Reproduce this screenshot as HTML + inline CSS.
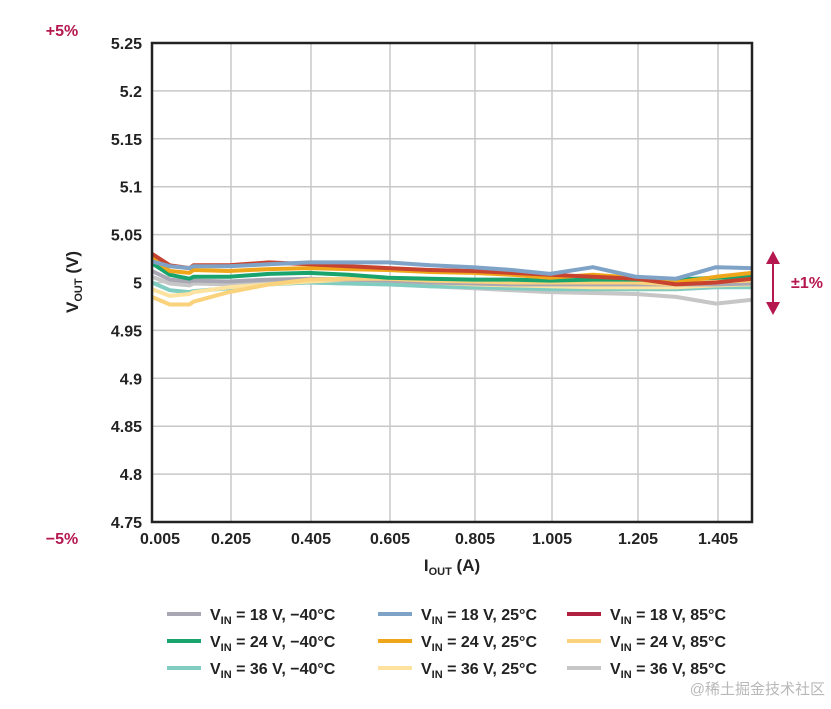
<!DOCTYPE html>
<html><head><meta charset="utf-8"><style>
body{margin:0;background:#fff;}
svg text{font-family:"Liberation Sans","Noto Sans CJK SC",sans-serif;font-weight:bold;}
</style></head><body>
<svg id="chart" width="831" height="704" viewBox="0 0 831 704" xmlns="http://www.w3.org/2000/svg">
<g id="grid"></g>
<g id="series"></g>
<rect x="152" y="43" width="600" height="479" fill="none" stroke="#222" stroke-width="2.5"/>
<g id="yticks" font-size="16" fill="#222" text-anchor="end"></g>
<g id="xticks" font-size="16" fill="#222" text-anchor="middle"></g>
<text transform="translate(78,282) rotate(-90)" text-anchor="middle" font-size="17" fill="#222">V<tspan font-size="11" dy="4">OUT</tspan><tspan dy="-4"> (V)</tspan></text>
<text x="452" y="571" text-anchor="middle" font-size="17" fill="#222">I<tspan font-size="11" dy="4">OUT</tspan><tspan dy="-4"> (A)</tspan></text>
<text x="62" y="36" text-anchor="middle" font-size="16" fill="#b5174f">+5%</text>
<text x="62" y="544" text-anchor="middle" font-size="16" fill="#b5174f">−5%</text>
<g stroke="#b5174f" fill="#b5174f">
<line x1="773" y1="258" x2="773" y2="308" stroke-width="2"/>
<polygon points="766,264 773,251 780,264" stroke="none"/>
<polygon points="766,302 773,315 780,302" stroke="none"/>
</g>
<text x="807" y="288" text-anchor="middle" font-size="16" fill="#b5174f">±1%</text>
<g id="legend" font-size="16" fill="#222"></g>
<text x="825" y="694" text-anchor="end" font-size="15" font-weight="normal" fill="#b8b8b8" style="font-weight:normal">@稀土掘金技术社区</text>
</svg>
<script>
const xTickLabels=["0.005","0.205","0.405","0.605","0.805","1.005","1.205","1.405"];
const xTickVals=[0.005,0.205,0.405,0.605,0.805,1.005,1.205,1.405];
const yTickVals=[5.25,5.2,5.15,5.1,5.05,5,4.95,4.9,4.85,4.8,4.75];
const yTickLabels=["5.25","5.2","5.15","5.1","5.05","5","4.95","4.9","4.85","4.8","4.75"];
const iout=[0.005,0.05,0.1,0.11,0.2,0.3,0.4,0.5,0.6,0.7,0.8,0.9,1.0,1.1,1.2,1.3,1.4,1.5];
const v18m40=[5.012,5.003,5.001,5.002,5.001,5.003,5.004,5.003,5.002,5.0,4.999,4.998,4.998,4.998,4.998,4.998,4.998,4.999];
const v18p25=[5.022,5.017,5.015,5.017,5.017,5.019,5.021,5.021,5.021,5.018,5.016,5.013,5.009,5.016,5.006,5.004,5.016,5.015];
const v18p85=[5.03,5.018,5.015,5.018,5.018,5.021,5.019,5.017,5.015,5.013,5.012,5.01,5.008,5.006,5.004,4.998,5.0,5.004];
const v24m40=[5.02,5.008,5.004,5.006,5.006,5.009,5.01,5.008,5.005,5.004,5.003,5.003,5.002,5.003,5.003,5.003,5.005,5.006];
const v24p25=[5.026,5.012,5.01,5.013,5.012,5.014,5.015,5.014,5.013,5.011,5.01,5.008,5.005,5.008,5.005,5.0,5.006,5.01];
const v24p85=[4.985,4.977,4.977,4.98,4.99,4.998,5.003,5.004,5.004,5.002,5.001,5.0,5.0,5.0,5.0,4.998,5.001,5.002];
const v36m40=[5.0,4.992,4.99,4.991,4.994,4.998,5.0,4.999,4.998,4.996,4.995,4.994,4.993,4.993,4.993,4.993,4.995,4.995];
const v36p25=[4.993,4.986,4.988,4.99,4.995,4.998,5.001,5.003,5.002,5.0,4.998,4.997,4.996,4.995,4.995,4.995,4.997,4.998];
const v36p85=[5.006,4.999,4.997,4.999,4.998,5.0,5.0,4.999,4.998,4.996,4.994,4.992,4.99,4.989,4.988,4.985,4.978,4.982];
const seriesNames=["VIN = 18 V, −40°C","VIN = 18 V, 25°C","VIN = 18 V, 85°C","VIN = 24 V, −40°C","VIN = 24 V, 25°C","VIN = 24 V, 85°C","VIN = 36 V, −40°C","VIN = 36 V, 25°C","VIN = 36 V, 85°C"];
const seriesData=[v18m40,v18p25,v18p85,v24m40,v24p25,v24p85,v36m40,v36p25,v36p85];
const colors=["#aaa7b4","#7fa3c6","#c8432f","#18a46c","#f0a61a","#fbd27c","#80ccc1","#fde39f","#c6c6c6"];
const legendColors=["#aaa7b4","#7fa3c6","#b0223f","#18a46c","#f0a61a","#fbd27c","#80ccc1","#fde39f","#c6c6c6"];
const NS="http://www.w3.org/2000/svg";
const X0=152,X1=752,Y0=43,Y1=522;
// piecewise x axis (gridlines in the reference are unevenly spaced)
const xPix=[152,231,311,390,475,552,638,718];
function xs(v){
  if(v<=xTickVals[0])return xPix[0];
  for(let i=1;i<xTickVals.length;i++){
    if(v<=xTickVals[i]){const t=(v-xTickVals[i-1])/(xTickVals[i]-xTickVals[i-1]);return xPix[i-1]+t*(xPix[i]-xPix[i-1]);}
  }
  const n=xTickVals.length-1;const sl=(xPix[n]-xPix[n-1])/(xTickVals[n]-xTickVals[n-1]);
  return Math.min(X1,xPix[n]+(v-xTickVals[n])*sl);
}
function ys(v){return Y1-(v-4.75)/(0.5)*(Y1-Y0);}
const grid=document.getElementById('grid');
yTickVals.forEach((v,i)=>{
  const l=document.createElementNS(NS,'line');
  l.setAttribute('x1',X0);l.setAttribute('x2',X1);l.setAttribute('y1',ys(v));l.setAttribute('y2',ys(v));
  l.setAttribute('stroke','#c8c8c8');l.setAttribute('stroke-width','1.5');
  
  
  grid.appendChild(l);
  const t=document.createElementNS(NS,'text');
  t.setAttribute('x',142);t.setAttribute('y',ys(v)+6);t.textContent=yTickLabels[i];
  
  
  document.getElementById('yticks').appendChild(t);
});
xTickVals.forEach((v,i)=>{
  const l=document.createElementNS(NS,'line');
  l.setAttribute('x1',xs(v));l.setAttribute('x2',xs(v));l.setAttribute('y1',Y0);l.setAttribute('y2',Y1);
  l.setAttribute('stroke','#c8c8c8');l.setAttribute('stroke-width','1.5');
  
  
  grid.appendChild(l);
  const t=document.createElementNS(NS,'text');
  t.setAttribute('x',xs(v)+(i===0?8:0));t.setAttribute('y',544);t.textContent=xTickLabels[i];
  
  
  document.getElementById('xticks').appendChild(t);
});
const order=[8,6,7,0,5,3,4,2,1];
order.forEach(k=>{
  const p=document.createElementNS(NS,'polyline');
  p.setAttribute('points',iout.map((x,i)=>xs(x).toFixed(1)+','+ys(seriesData[k][i]).toFixed(1)).join(' '));
  p.setAttribute('fill','none');p.setAttribute('stroke',colors[k]);p.setAttribute('stroke-width','4');
  p.setAttribute('stroke-linejoin','round');
  
  
  document.getElementById('series').appendChild(p);
});
const lx=[167,378,567],ly=[614,641,668];
seriesNames.forEach((n,k)=>{
  const c=k%3,r=Math.floor(k/3);
  const g=document.createElementNS(NS,'g');
  
  
  const l=document.createElementNS(NS,'line');
  l.setAttribute('x1',lx[c]);l.setAttribute('x2',lx[c]+34);l.setAttribute('y1',ly[r]);l.setAttribute('y2',ly[r]);
  l.setAttribute('stroke',legendColors[k]);l.setAttribute('stroke-width','4');
  g.appendChild(l);
  const t=document.createElementNS(NS,'text');
  t.setAttribute('x',lx[c]+43);t.setAttribute('y',ly[r]+6);
  const rest=n.slice(3);
  t.innerHTML='V<tspan font-size="11" dy="4">IN</tspan><tspan dy="-4">'+rest+'</tspan>';
  g.appendChild(t);
  document.getElementById('legend').appendChild(g);
});
</script>
</body></html>
